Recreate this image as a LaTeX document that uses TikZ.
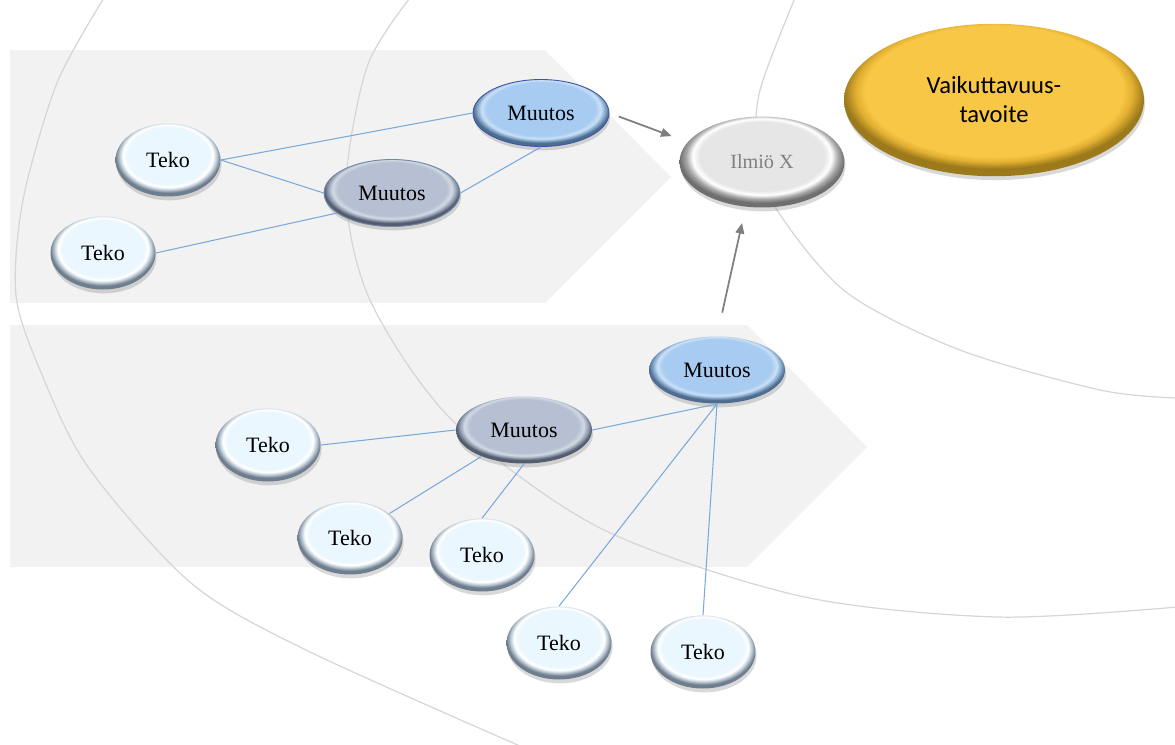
\documentclass[tikz,border=0pt]{standalone}
\usepackage{fontspec}
\setmainfont{Liberation Serif}
\newfontfamily\goalfont{Carlito}
\usetikzlibrary{shapes.geometric,shadows,arrows.meta}
\definecolor{bandgray}{HTML}{F2F2F2}
\definecolor{ringgray}{HTML}{D6D6D6}
\definecolor{linkblue}{HTML}{7AAADB}
\definecolor{arrowgray}{HTML}{7F7F7F}
\definecolor{tekoin}{HTML}{EBF7FE}
\definecolor{tekomid}{HTML}{C3CFDA}
\definecolor{tekoedge}{HTML}{6E7E8E}
\definecolor{bluein}{HTML}{A8CCF1}
\definecolor{bluemid}{HTML}{86A9CC}
\definecolor{blueedge}{HTML}{4D6C8E}
\definecolor{grayin}{HTML}{B6C0D2}
\definecolor{graymid}{HTML}{96A1B4}
\definecolor{grayedge}{HTML}{535D6F}
\definecolor{ilmioin}{HTML}{E6E6E6}
\definecolor{ilmioedge}{HTML}{6F6F6F}
\definecolor{goalin}{HTML}{F7C745}
\definecolor{goalmid}{HTML}{E3B032}
\definecolor{goaledge}{HTML}{9C7A1C}
\pgfdeclareradialshading{tekoshade}{\pgfpoint{0bp}{5bp}}{color(0bp)=(tekoin); color(19.5bp)=(tekoin); color(21.5bp)=(white); color(23bp)=(tekomid); color(25bp)=(tekoedge); color(50bp)=(tekoedge)}
\pgfdeclareradialshading{blueshade}{\pgfpoint{0bp}{5bp}}{color(0bp)=(bluein); color(20bp)=(bluein); color(22bp)=(bluein!60!white); color(23.5bp)=(bluemid); color(25bp)=(blueedge); color(50bp)=(blueedge)}
\pgfdeclareradialshading{grayshade}{\pgfpoint{0bp}{5bp}}{color(0bp)=(grayin); color(20bp)=(grayin); color(22bp)=(grayin!60!white); color(23.5bp)=(graymid); color(25bp)=(grayedge); color(50bp)=(grayedge)}
\pgfdeclareradialshading{ilmioshade}{\pgfpoint{0bp}{5bp}}{color(0bp)=(ilmioin); color(19bp)=(ilmioin); color(21bp)=(white); color(23bp)=(ilmioedge!60); color(25bp)=(ilmioedge); color(50bp)=(ilmioedge)}
\pgfdeclareradialshading{goalshade}{\pgfpoint{0bp}{5bp}}{color(0bp)=(goalin); color(21.5bp)=(goalin); color(23bp)=(goalmid); color(25bp)=(goaledge); color(50bp)=(goaledge)}
\begin{document}
\begin{tikzpicture}[x=0.02cm, y=-0.02cm,
  bubble/.style={ellipse, inner sep=0pt, shade, drop shadow={shadow xshift=0.6pt, shadow yshift=-2.2pt, opacity=0.3}},
  teko/.style={bubble, shading=tekoshade, minimum width=2.1cm, minimum height=1.46cm, font=\fontsize{12.5}{14}\selectfont},
  muutos/.style={bubble, minimum width=2.72cm, minimum height=1.34cm, font=\fontsize{12.5}{14}\selectfont},
  bluebub/.style={muutos, shading=blueshade, draw=blueedge, line width=0.5pt},
  graybub/.style={muutos, shading=grayshade, draw=grayedge, line width=0.5pt},
  ring/.style={draw=ringgray, line width=0.7pt},
  link/.style={draw=linkblue, line width=0.6pt},
  pil/.style={draw=arrowgray, line width=1pt, -{Triangle[length=6pt,width=5pt]}}]
\useasboundingbox (0,0) rectangle (1175,744);
\clip (0,0) rectangle (1175,744);
\fill[bandgray] (10,50) -- (545,50) -- (671,177) -- (545,303) -- (10,303) -- cycle;
\fill[bandgray] (10,325) -- (747,325) -- (867,447) -- (747,567) -- (10,567) -- cycle;
\draw[ring] plot[smooth] coordinates {(104,-2) (57,83) (23,200) (16,295) (40,370) (88,467) (191,583) (306,650) (520,746)};
\draw[ring] plot[smooth] coordinates {(410,-2) (367,67) (346,190) (370,300) (452,420) (600,528) (800,596) (997,617) (1177,607)};
\draw[ring] plot[smooth] coordinates {(795,-2) (760,90) (757,150) (775,207) (846,292) (960,350) (1100,390) (1177,398)};
\node[teko] (t1) at (168,160) {Teko};
\node[teko] (t2) at (103,253) {Teko};
\node[graybub, draw=blueedge!80] (m1) at (392,193) {Muutos};
\node[bluebub, draw=blueedge!80!blue] (m2) at (541,113) {Muutos};
\node[bubble, shading=ilmioshade, minimum width=3.3cm, minimum height=1.82cm, font=\fontsize{11.5}{14}\selectfont, text=arrowgray] (x) at (762,162) {Ilmiö X};
\node[bubble, shading=goalshade, minimum width=6cm, minimum height=3.05cm, align=center, font=\goalfont\fontsize{14}{16.5}\selectfont] (g) at (994,100) {Vaikuttavuus-\\tavoite};
\node[teko] (t3) at (268,445) {Teko};
\node[graybub, draw=none] (m3) at (524,430) {Muutos};
\node[bluebub, draw=none] (m4) at (717,370) {Muutos};
\node[teko] (t4) at (350,538) {Teko};
\node[teko] (t5) at (482,555) {Teko};
\node[teko] (t6) at (559,643) {Teko};
\node[teko] (t7) at (703,652) {Teko};
\draw[link] (t1.east) -- (m2.west);
\draw[link] (t1.east) -- (m1.west);
\draw[link] (t2.east) -- (m1.200);
\draw[link] (m1.east) -- (m2.south);
\draw[link] (t3.east) -- (m3.west);
\draw[link] (m3) -- (t4);
\draw[link] (m3.south) -- (t5.north);
\draw[link] (m3.east) -- (m4.south);
\draw[link] (m4.south) -- (t6.north);
\draw[link] (m4.south) -- (t7.north);
\draw[pil, shorten <=0.2cm, shorten >=0.34cm] (m2.east) -- (x.165);
\draw[pil, shorten <=0.48cm, shorten >=0.33cm] (m4.north) -- (x.250);
\end{tikzpicture}
\end{document}
